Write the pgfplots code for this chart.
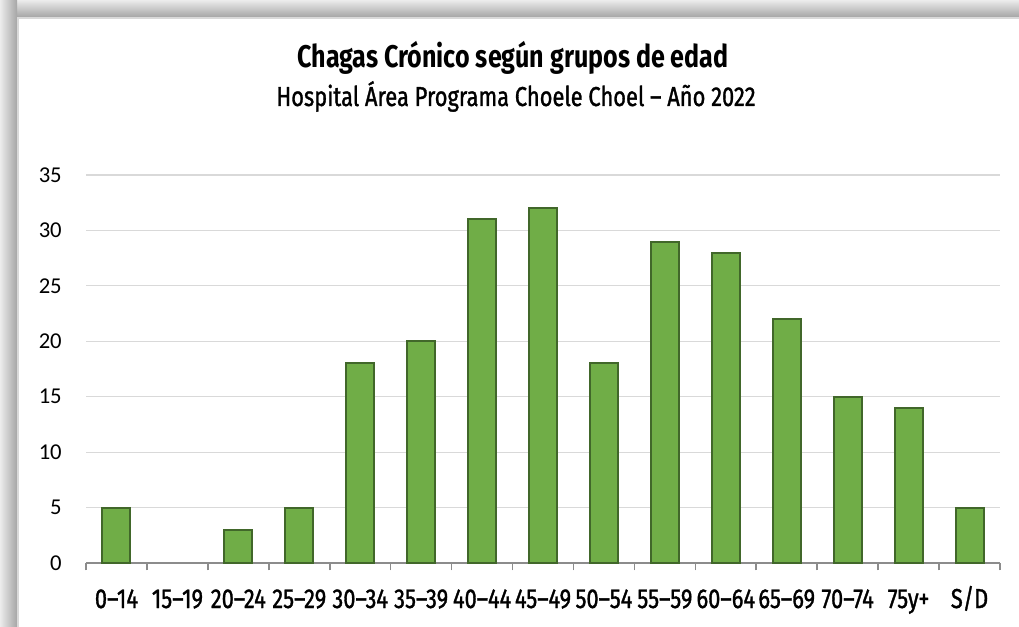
\documentclass[border=0pt]{standalone}
\usepackage{fontspec}
\setmainfont{Carlito}
\newfontfamily\bahn[FakeStretch=0.8]{Fira Sans}
\newfontfamily\bahnm[FakeStretch=0.8, FakeBold=1.2]{Fira Sans}
\usepackage{pgfplots}
\pgfplotsset{compat=1.18}
\definecolor{barfill}{HTML}{70AD47}
\definecolor{baredge}{HTML}{41672A}
\definecolor{gridc}{HTML}{D9D9D9}
\definecolor{axc}{HTML}{8C8C8C}
\begin{document}
\begin{tikzpicture}[x=0.75pt,y=0.75pt]
\path[use as bounding box] (0,0) rectangle (1019,627);
\fill[white] (0,0) rectangle (1019,627);
\shade[top color=gray!15, bottom color=gray!70] (0,610) rectangle (1019,627);
\shade[left color=gray!15, right color=gray!70] (0,0) rectangle (17,627);
\fill[gray!30] (17,0) rectangle (19,609);
\fill[gray!30] (17,608) rectangle (1019,610);
\node[font=\bahn\bfseries\fontsize{23.5}{28}\selectfont, anchor=base] at (513,559) {Chagas Crónico según grupos de edad};
\node[font=\bahnm\fontsize{20.5}{24}\selectfont, anchor=base] at (516,521) {Hospital Área Programa Choele Choel – Año 2022};
\begin{axis}[
  at={(64.5pt,48pt)}, anchor=south west,
  scale only axis, width=685.5pt, height=291pt,
  xmin=-0.5, xmax=14.5, ymin=0, ymax=35,
  axis x line*=bottom, axis y line*=left,
  y axis line style={draw=none},
  x axis line style={draw=axc, line width=1.5pt},
  ytick={0,5,...,35},
  ymajorgrids, grid style={draw=gridc, line width=0.9pt},
  major tick length=0pt,
  xtick={0,...,14},
  xticklabels={0–14,15–19,20–24,25–29,30–34,35–39,40–44,45–49,50–54,55–59,60–64,65–69,70–74,75y+,S/D},
  minor xtick={-0.5,0.5,...,14.5},
  minor tick length=5.5pt, tick align=outside,
  minor tick style={draw=axc, line width=1.2pt},
  /pgf/number format/assume math mode=true,
  xticklabel style={font=\bahnm\fontsize{20.5}{22}\selectfont, anchor=base, yshift=-33.75pt},
  yticklabel style={font=\fontsize{17}{20}\selectfont, anchor=east, inner sep=0pt, xshift=-18pt},
  ybar, bar width=0.46,
  clip=false,
]
\addplot[fill=barfill, draw=baredge, line width=1.5pt, bar shift=0pt] coordinates {
(0,5) (2,3) (3,5) (4,18) (5,20) (6,31) (7,32) (8,18) (9,29) (10,28) (11,22) (12,15) (13,14) (14,5)};
\end{axis}
\end{tikzpicture}
\end{document}
